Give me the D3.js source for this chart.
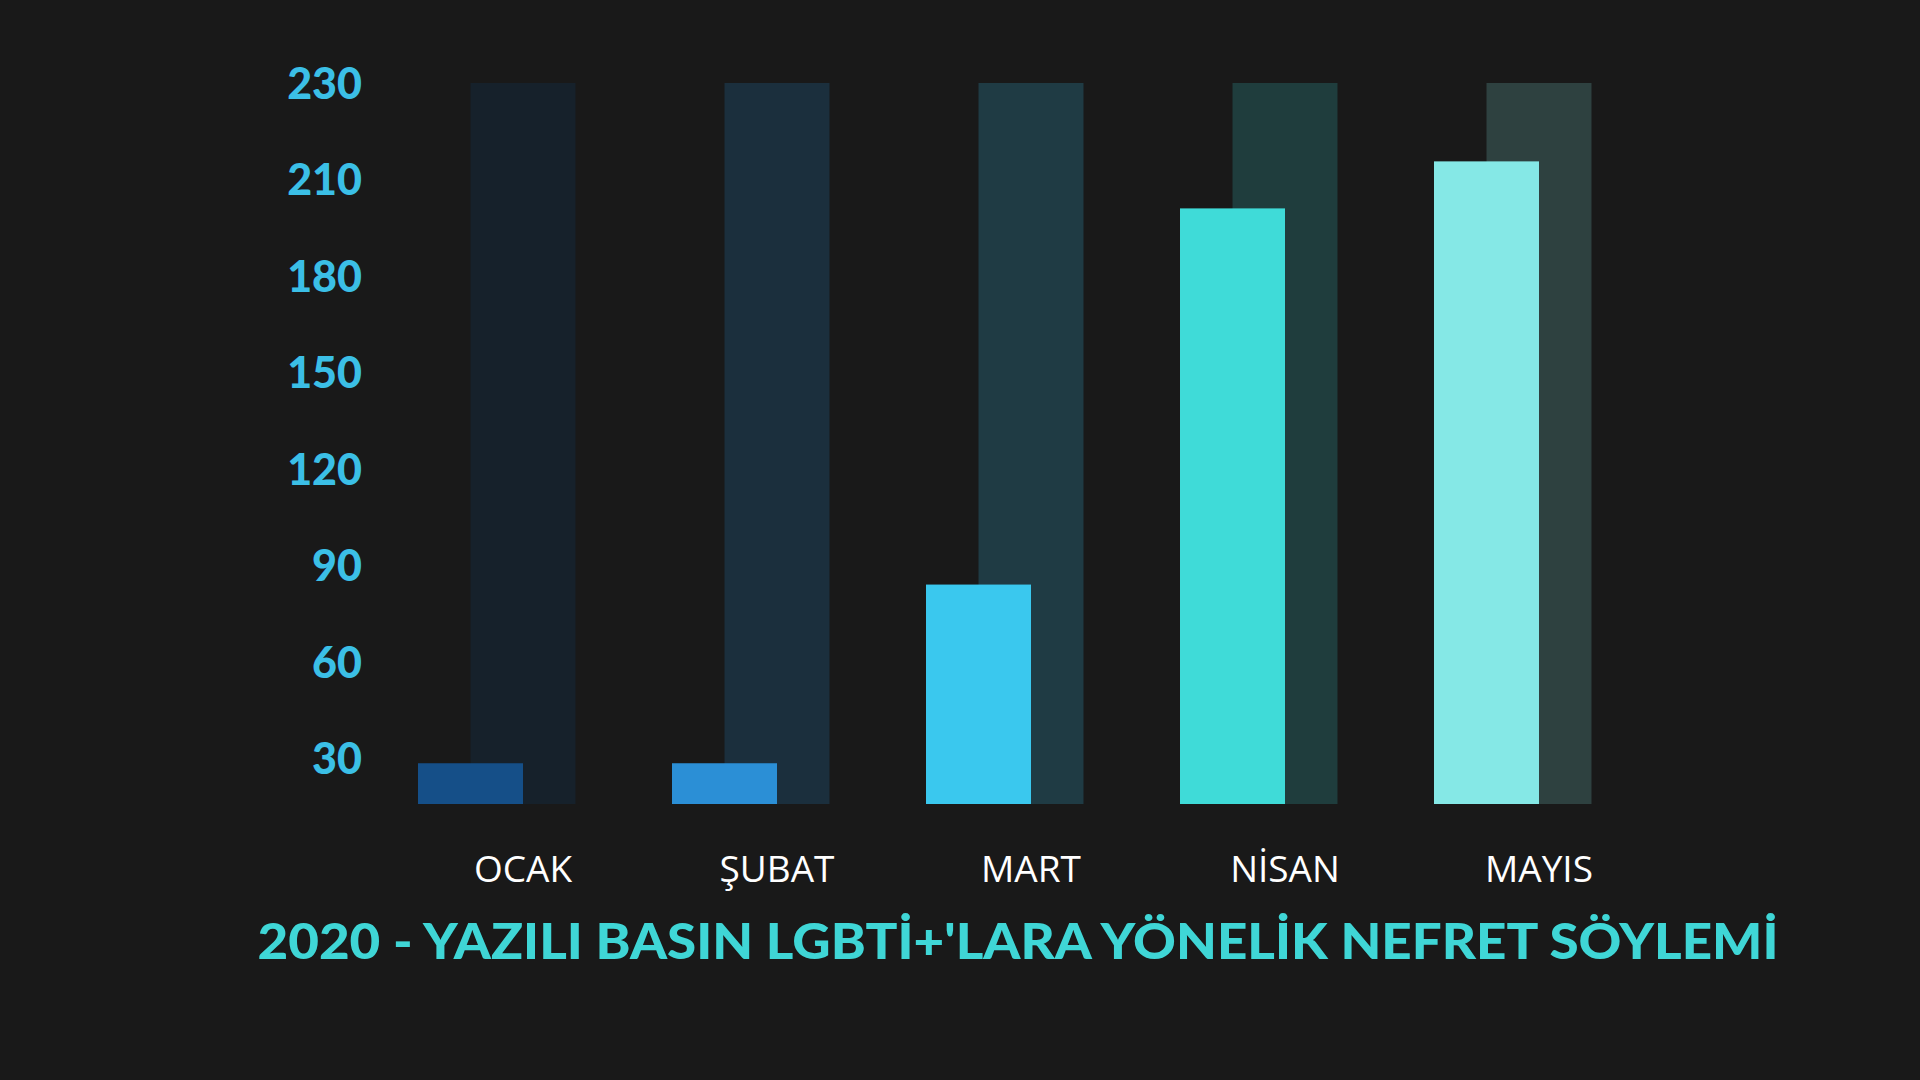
<!DOCTYPE html>
<html><head><meta charset="utf-8">
<script src="https://cdn.jsdelivr.net/npm/d3@7"></script>
<style>body{margin:0;background:#191919;}svg{display:block}</style>
</head><body>
<script>
const months = ["OCAK","ŞUBAT","MART","NİSAN","MAYIS"];
const values = [13, 13, 70, 190, 205];
const maxValue = 230;
const tickLabels = [230,210,180,150,120,90,60,30];
const fgColors = ["#154f88","#2b8fd6","#3ac8ee","#3fdbd8","#85e8e6"];
const bgColors = ["#16212b","#1b2f3d","#1f3b44","#1f3d3d","#2e4140"];
const title = "2020 - YAZILI BASIN LGBTİ+'LARA YÖNELİK NEFRET SÖYLEMİ";

const W=1920,H=1080;
const svg=d3.select("body").append("svg").attr("width",W).attr("height",H);
svg.append("rect").attr("width",W).attr("height",H).attr("fill","#191919");

const x=d3.scalePoint().domain(months).range([523,1539]);
const y=d3.scaleLinear().domain([0,maxValue]).range([804,83]);
const bw=105;

svg.selectAll(".bg").data(months).join("rect")
 .attr("x",d=>x(d)-bw/2).attr("y",y(maxValue)).attr("width",bw)
 .attr("height",y(0)-y(maxValue)).attr("fill",(d,i)=>bgColors[i]);
svg.selectAll(".fg").data(values).join("rect")
 .attr("x",(d,i)=>x(months[i])-bw).attr("y",d=>y(d)).attr("width",bw)
 .attr("height",d=>y(0)-y(d)).attr("fill",(d,i)=>fgColors[i]);

const yt=d3.scalePoint().domain(tickLabels).range([84,759]);
svg.selectAll(".tk").data(tickLabels).join("text")
 .attr("x",362).attr("y",d=>yt(d)).attr("dy","0.35em").attr("text-anchor","end")
 .attr("font-family","Lato, 'Open Sans', sans-serif").attr("font-weight",900)
 .attr("font-size",43).attr("fill","#3bbfe6").text(d=>d);

svg.selectAll(".ml").data(months).join("text")
 .attr("x",d=>x(d)).attr("y",869).attr("dy","0.35em").attr("text-anchor","middle")
 .attr("font-family","'Open Sans', sans-serif").attr("font-size",37)
 .attr("fill","#ffffff").text(d=>d);

svg.append("text").attr("x",1018).attr("y",941).attr("dy","0.35em").attr("text-anchor","middle")
 .attr("font-family","Lato, 'Open Sans', sans-serif").attr("font-weight",900)
 .attr("font-size",50).attr("fill","#3fd6d6").attr("textLength",1521)
 .attr("lengthAdjust","spacingAndGlyphs").text(title);
</script>
</body></html>
